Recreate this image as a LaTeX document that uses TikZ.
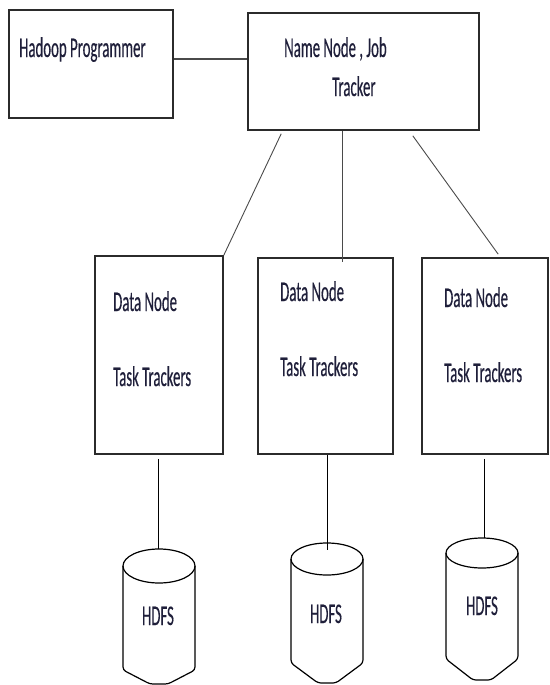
\documentclass[tikz,border=0pt]{standalone}
\usepackage{fontspec}
\setmainfont{Carlito}[FakeStretch=0.52,FakeBold=0.3]
\definecolor{ink}{HTML}{1F1F3A}
\definecolor{frame}{HTML}{2B2B2B}
\definecolor{wire}{HTML}{4A4A4A}
\newcommand\drawdisk[5]{% centre x, top-ellipse centre y, y radius, side end y, lowest y
  \draw[disk] (#1,#2) ellipse [x radius=36pt, y radius=#3pt];
  \draw[disk,rounded corners=3pt] (#1-36,#2) -- (#1-36,#4) -- (#1-9,#5) -- (#1+9,#5) -- (#1+36,#4) -- (#1+36,#2);
}
\begin{document}
\begin{tikzpicture}[x=1pt,y=-1pt,
  box/.style={draw=frame,line width=1.6pt,fill=none,inner sep=0pt,minimum width=#1},
  label/.style={inner sep=0pt,anchor=base west,text=ink,font=\fontsize{28.5}{34}\selectfont},
  mid/.style={inner sep=0pt,anchor=base,text=ink,font=\fontsize{28.5}{34}\selectfont},
  link/.style={draw=wire,line width=0.9pt},
  thick link/.style={draw=wire,line width=1.8pt},
  disk/.style={draw=black,line width=1.2pt}]
\useasboundingbox (0,0) rectangle (549,685);

% boxes
\node[box=164pt,minimum height=108.5pt] (hp) at (91,64) {};
\node[box=231pt,minimum height=117pt] (nm) at (363.5,71.5) {};
\node[box=128pt,minimum height=198pt] (d1) at (159,355) {};
\node[box=135pt,minimum height=196pt] (d2) at (325.5,356) {};
\node[box=126pt,minimum height=196pt] (d3) at (485,356) {};

% texts
\node[label] (thp) at (19,57) {Hadoop Programmer};
\node[label] (tnm1) at (284,57) {Name Node , Job};
\node[label] (tnm2) at (332,96) {Tracker};
\node[label] (td1a) at (113,311) {Data Node};
\node[label] (td1b) at (113,386) {Task Trackers};
\node[label] (td2a) at (280,301) {Data Node};
\node[label] (td2b) at (280,376) {Task Trackers};
\node[label] (td3a) at (444,307) {Data Node};
\node[label] (td3b) at (444,382) {Task Trackers};

% storage cylinders
\drawdisk{159}{566}{17}{670}{684}
\drawdisk{327}{559}{16}{663}{683}
\drawdisk{482}{553}{15}{659}{680}
\node[mid] (h1) at (158,625) {HDFS};
\node[mid] (h2) at (326,623) {HDFS};
\node[mid] (h3) at (482,615) {HDFS};
\coordinate (k1) at (158,549);
\coordinate (k2) at (327,550);
\coordinate (k3) at (484,538);

% connectors
\draw[thick link] ([yshift=5pt]hp.east) -- ([yshift=5pt]hp.east -| nm.west);
\draw[link] ([xshift=34pt,yshift=-3pt]nm.south west) -- (d1.north east);
\coordinate (nmB) at ([xshift=95pt]nm.south west);
\draw[link] (nmB) -- (nmB |- d2.north) -- ++(0,5);
\draw[link] ([xshift=-67pt,yshift=-5pt]nm.south east) -- ([xshift=77pt,yshift=3pt]d3.north west);
\draw[link,draw=black] ([yshift=-4pt]k1 |- d1.south) -- (k1);
\draw[link,draw=black] (k2 |- d2.south) -- (k2);
\draw[link,draw=black] ([yshift=-4pt]k3 |- d3.south) -- (k3);
\end{tikzpicture}
\end{document}
